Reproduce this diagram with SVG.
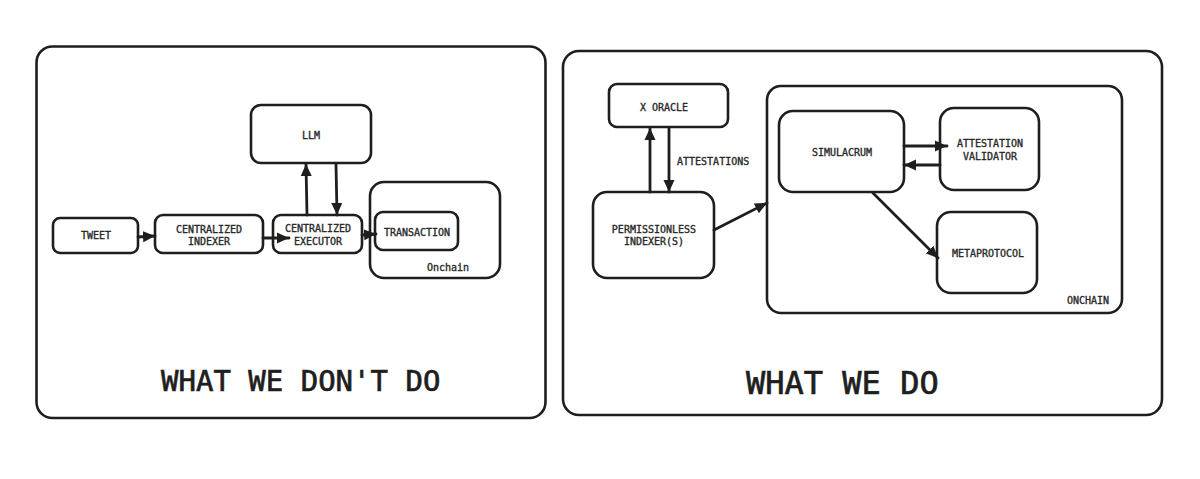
<svg xmlns="http://www.w3.org/2000/svg" width="1200" height="479" viewBox="0 0 1200 479">
<style>
.box{fill:none;stroke:#1e1e1e;stroke-width:2.6;stroke-linejoin:round}
.lbl{font-family:"DejaVu Sans Mono","Liberation Mono",monospace;font-size:10px;fill:#2a2a2a;stroke:#2a2a2a;stroke-width:0.35;text-anchor:middle}
.ttl{font-family:"DejaVu Sans Mono","Liberation Mono",monospace;fill:#1e1e1e;stroke:#1e1e1e;stroke-width:0.7}
.arr{fill:none;stroke:#1e1e1e;stroke-width:2.8;stroke-linecap:round;marker-end:url(#ah)}
</style>
<defs>
<marker id="ah" markerUnits="userSpaceOnUse" markerWidth="14" markerHeight="12" refX="12" refY="6" orient="auto">
<path d="M0,0.5 L12,6 L0,11.5 Z" fill="#1e1e1e"/>
</marker>
</defs>
<rect width="1200" height="479" fill="#ffffff"/>

<g id="panel-left">
<rect class="box" x="36.5" y="46.5" width="509" height="371.5" rx="16"/>
<text class="ttl" x="161" y="391" font-size="29">WHAT WE DON'T DO</text>
</g>
<g id="panel-right">
<rect class="box" x="563" y="51" width="599" height="364" rx="16"/>
<text class="ttl" x="746" y="394" font-size="32">WHAT WE DO</text>
</g>

<g id="tweet">
<rect class="box" x="53" y="218" width="85" height="35" rx="7"/>
<text class="lbl" x="96" y="239">TWEET</text>
</g>
<g id="centralized-indexer">
<rect class="box" x="155" y="215" width="108" height="38" rx="8"/>
<text class="lbl" x="209" y="233">CENTRALIZED</text>
<text class="lbl" x="209" y="245">INDEXER</text>
</g>
<g id="centralized-executor">
<rect class="box" x="273" y="215" width="89" height="38" rx="8"/>
<text class="lbl" x="318" y="232">CENTRALIZED</text>
<text class="lbl" x="318" y="245">EXECUTOR</text>
</g>
<g id="llm">
<rect class="box" x="251" y="105" width="120" height="58" rx="10"/>
<text class="lbl" x="311" y="139">LLM</text>
</g>
<g id="onchain-left">
<rect class="box" x="370" y="182" width="130" height="96" rx="14"/>
<text class="lbl" x="448" y="271">Onchain</text>
</g>
<g id="transaction">
<rect class="box" x="375" y="212" width="83" height="38" rx="8"/>
<text class="lbl" x="417" y="236">TRANSACTION</text>
</g>

<g id="x-oracle">
<rect class="box" x="609" y="84" width="119" height="43" rx="8"/>
<text class="lbl" x="664" y="111">X ORACLE</text>
</g>
<g id="permissionless-indexers">
<rect class="box" x="593" y="192" width="121" height="86" rx="14"/>
<text class="lbl" x="654" y="233">PERMISSIONLESS</text>
<text class="lbl" x="654" y="245">INDEXER(S)</text>
</g>
<g id="onchain-right">
<rect class="box" x="767" y="86" width="355" height="227" rx="14"/>
<text class="lbl" x="1088" y="304">ONCHAIN</text>
</g>
<g id="simulacrum">
<rect class="box" x="779" y="111" width="125" height="81" rx="14"/>
<text class="lbl" x="842" y="156">SIMULACRUM</text>
</g>
<g id="attestation-validator">
<rect class="box" x="940" y="108" width="99" height="82" rx="14"/>
<text class="lbl" x="990" y="147">ATTESTATION</text>
<text class="lbl" x="990" y="160">VALIDATOR</text>
</g>
<g id="metaprotocol">
<rect class="box" x="937" y="212" width="100" height="81" rx="14"/>
<text class="lbl" x="988" y="257">METAPROTOCOL</text>
</g>

<g id="connectors">
<path class="arr" d="M138,237 L155,236"/>
<path class="arr" d="M263,238 L289,238"/>
<path class="arr" d="M307,215 L306,164"/>
<path class="arr" d="M336,164 L337,215"/>
<path class="arr" d="M362,235 L376,234"/>
<path class="arr" d="M650,192 L650,128"/>
<path class="arr" d="M669,128 L669,192"/>
<text class="lbl" x="677" y="165" style="text-anchor:start">ATTESTATIONS</text>
<path class="arr" d="M714,230 L767,203"/>
<path class="arr" d="M904,146 L947,146"/>
<path class="arr" d="M940,165 L904,165"/>
<path class="arr" d="M873,193 L938,258"/>
</g>
</svg>
